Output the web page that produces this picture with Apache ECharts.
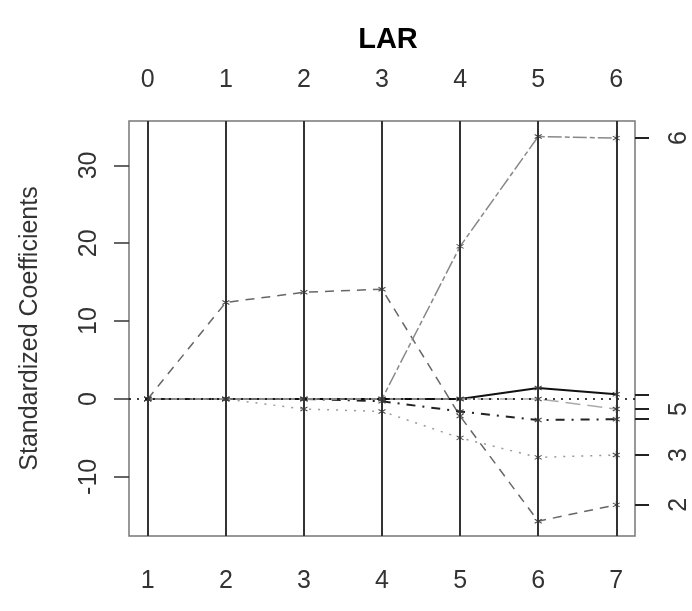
<!DOCTYPE html>
<html>
<head>
<meta charset="utf-8">
<script src="https://cdn.jsdelivr.net/npm/echarts@6/dist/echarts.min.js"></script>
<style>
html,body{margin:0;padding:0;background:#fff;}
#chart{width:692px;height:611px;}
</style>
</head>
<body>
<div id="chart"></div>
<script>
// ---- data ----
const steps = [1, 2, 3, 4, 5, 6, 7];            // bottom axis (step number)
const topLabels = ['0', '1', '2', '3', '4', '5', '6']; // top axis (number of variables)
const yTicks = [-10, 0, 10, 20, 30];
const coef1 = [0, 0, 0, 0, 0, 1.4, 0.6];
const coef2 = [0, 12.4, 13.7, 14.1, -2.2, -15.7, -13.6];
const coef3 = [0, 0, -1.3, -1.6, -5.0, -7.5, -7.2];
const coef4 = [0, 0, 0, -0.3, -1.6, -2.7, -2.6];
const coef5 = [0, 0, 0, 0, 0, 0, -1.3];
const coef6 = [0, 0, 0, 0, 19.6, 33.7, 33.5];
const rightLabelVars = [6, 5, 3, 2];             // labels shown on the right axis

const coefs = [coef1, coef2, coef3, coef4, coef5, coef6];
const finals = coefs.map(c => c[c.length - 1]);

const styles = [
  {color: '#111', width: 2, type: 'solid'},
  {color: '#666', width: 1.5, type: [9, 7]},
  {color: '#999', width: 1.5, type: [2, 7]},
  {color: '#222', width: 2, type: [2, 7, 9, 7]},
  {color: '#aaa', width: 1.5, type: [15, 7]},
  {color: '#888', width: 1.5, type: [14, 3, 5, 3]}
];

const FONT = '"Liberation Sans", Arial, sans-serif';
const XMIN = 0.76, XMAX = 7.24, YMIN = -17.6, YMAX = 35.7;
const star = 'path://M0,-5L0,5M-4.33,-2.5L4.33,2.5M-4.33,2.5L4.33,-2.5';

const series = coefs.map((c, i) => ({
  type: 'line',
  name: 'V' + (i + 1),
  data: steps.map((s, k) => [s, c[k]]),
  symbol: star,
  symbolSize: [7, 8],
  showAllSymbol: true,
  lineStyle: {color: styles[i].color, width: styles[i].width, type: styles[i].type},
  itemStyle: {color: '#444', borderColor: '#444', borderWidth: 1},
  silent: true,
  animation: false,
  z: 3
}));

series[0].markLine = {
  silent: true,
  symbol: ['none', 'none'],
  label: {show: false},
  animation: false,
  data: [
    {yAxis: 0, lineStyle: {color: '#000', width: 1.5, type: [2, 6]}}
  ].concat(steps.map(s => ({xAxis: s, lineStyle: {color: '#333', width: 2, type: 'solid'}})))
};

const chart = echarts.init(document.getElementById('chart'), null, {renderer: 'canvas'});
chart.setOption({
  backgroundColor: '#fff',
  animation: false,
  title: {
    text: 'LAR',
    left: 383,
    top: 20,
    textAlign: 'center',
    textStyle: {fontFamily: FONT, fontWeight: 'bold', fontSize: 29, color: '#000'}
  },
  grid: {
    left: 129, right: 55, top: 121, bottom: 75,
    show: true, borderColor: '#777', borderWidth: 1.5, backgroundColor: 'transparent'
  },
  xAxis: [
    {
      type: 'value', position: 'bottom', min: XMIN, max: XMAX,
      axisLine: {show: false},
      splitLine: {show: false},
      axisTick: {show: true, inside: false, length: 16, customValues: steps,
        lineStyle: {color: '#333', width: 2}},
      axisLabel: {show: true, customValues: steps, margin: 33,
        fontFamily: FONT, fontSize: 25, color: '#333',
        formatter: v => String(v)}
    },
    {
      type: 'value', position: 'top', min: XMIN, max: XMAX,
      axisLine: {show: false},
      splitLine: {show: false},
      axisTick: {show: true, inside: false, length: 15, customValues: steps,
        lineStyle: {color: '#333', width: 2}},
      axisLabel: {show: true, customValues: steps, margin: 28,
        fontFamily: FONT, fontSize: 25, color: '#333',
        formatter: v => topLabels[steps.indexOf(v)]}
    }
  ],
  yAxis: [
    {
      type: 'value', position: 'left', min: YMIN, max: YMAX,
      name: 'Standardized Coefficients',
      nameLocation: 'middle', nameGap: 86,
      nameTextStyle: {fontFamily: FONT, fontSize: 25, color: '#333'},
      axisLine: {show: false},
      splitLine: {show: false},
      axisTick: {show: true, length: 15, customValues: yTicks,
        lineStyle: {color: '#333', width: 1.5}},
      axisLabel: {show: true, customValues: yTicks, rotate: 90, margin: 27,
        fontFamily: FONT, fontSize: 25, color: '#333',
        formatter: v => String(v)}
    },
    {
      type: 'value', position: 'right', min: YMIN, max: YMAX,
      axisLine: {show: false},
      splitLine: {show: false},
      axisTick: {show: true, length: 14, customValues: finals,
        lineStyle: {color: '#222', width: 2}},
      axisLabel: {show: true, customValues: rightLabelVars.map(v => finals[v - 1]),
        rotate: 90, margin: 32,
        fontFamily: FONT, fontSize: 25, color: '#333',
        formatter: v => {
          const idx = rightLabelVars.find(r => finals[r - 1] === v);
          return idx === undefined ? '' : String(idx);
        }}
    }
  ],
  series: series
});
</script>
</body>
</html>
